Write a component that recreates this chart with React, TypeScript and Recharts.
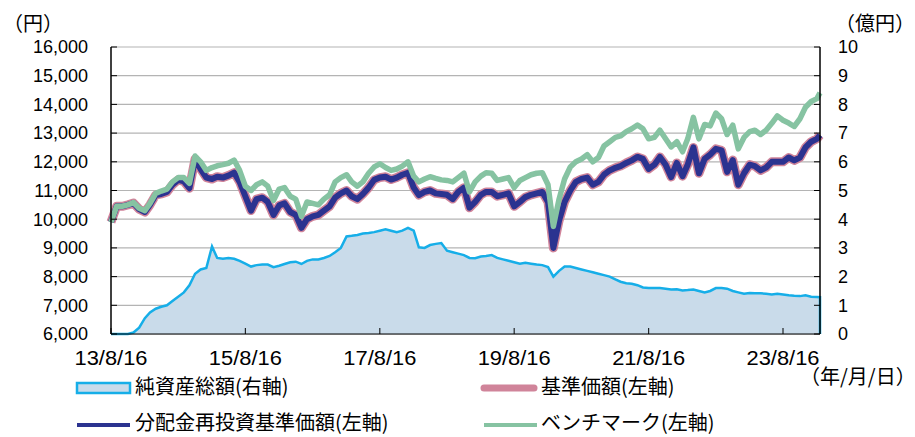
import {
  ComposedChart,
  Area,
  Line,
  XAxis,
  YAxis,
  CartesianGrid,
  Legend,
} from 'recharts'

// monthly reading points, 2013/8/16 .. 2024/2/16, plus the last day
const MONTHS = 127
const monthDates = Array.from({ length: MONTHS }, (_, i) => Date.UTC(2013, 7 + i, 16))
const LAST_DATE = Date.UTC(2024, 2, 4)
const FIRST_DATE = Date.UTC(2013, 7, 16)

const xTicks = ['2013-08-16', '2015-08-16', '2017-08-16', '2019-08-16', '2021-08-16', '2023-08-16']
const leftTicks = [6000, 7000, 8000, 9000, 10000, 11000, 12000, 13000, 14000, 15000, 16000]
const rightTicks = [0, 1, 2, 3, 4, 5, 6, 7, 8, 9, 10]

// 純資産総額 (億円)
const netAssets = [
  0, 0, 0, 0, 0.05, 0.22, 0.55, 0.75, 0.88, 0.95,
  1.0, 1.15, 1.3, 1.45, 1.7, 2.1, 2.25, 2.3, 3.05, 2.65,
  2.62, 2.65, 2.62, 2.55, 2.45, 2.35, 2.4, 2.42, 2.42, 2.33,
  2.38, 2.44, 2.5, 2.52, 2.44, 2.55, 2.6, 2.6, 2.65, 2.72,
  2.85, 3.0, 3.4, 3.42, 3.45, 3.5, 3.52, 3.55, 3.6, 3.65,
  3.6, 3.55, 3.6, 3.7, 3.6, 3.02, 3.0, 3.1, 3.14, 3.17,
  2.9, 2.85, 2.8, 2.75, 2.65, 2.64, 2.7, 2.72, 2.75, 2.65,
  2.6, 2.55, 2.5, 2.45, 2.48, 2.45, 2.42, 2.4, 2.33, 2.0,
  2.2, 2.35, 2.35, 2.3, 2.25, 2.2, 2.15, 2.1, 2.05, 2.0,
  1.9, 1.82, 1.77, 1.75, 1.7, 1.62, 1.6, 1.6, 1.6, 1.58,
  1.55, 1.56, 1.52, 1.53, 1.55, 1.5, 1.45, 1.5, 1.6, 1.6,
  1.58, 1.5, 1.45, 1.4, 1.43, 1.42, 1.42, 1.4, 1.38, 1.4,
  1.38, 1.35, 1.33, 1.32, 1.35, 1.3, 1.29,
  1.28,
]

// 基準価額 (円)
const basePrice = [
  9900, 10450, 10450, 10500, 10560, 10350, 10250, 10500, 10840, 10880,
  10950, 11200, 11370, 11320, 11080, 12100, 11750, 11450, 11400, 11480,
  11450, 11520, 11620, 11300, 10800, 10300, 10700, 10750, 10600, 10150,
  10480, 10550, 10250, 10150, 9700, 10000, 10100, 10150, 10300, 10450,
  10750, 10900, 11000, 10800, 10700, 10880, 11100, 11370, 11450, 11480,
  11380, 11450, 11550, 11620, 11100, 10840, 10950, 11000, 10900, 10880,
  10850, 10700, 10950, 11100, 10400, 10600, 10850, 10950, 10950, 10800,
  10850, 10900, 10450, 10600, 10770, 10850, 10900, 10950, 10600, 9000,
  9950, 10600, 11000, 11300, 11400, 11450, 11200, 11300, 11550, 11700,
  11790, 11850, 11960, 12050, 12170, 12100, 11750, 11900, 12170, 11900,
  11470, 11960, 11500, 11900, 12500, 11600, 12100, 12250, 12450, 12400,
  11650, 12060, 11200, 11600, 11900, 11850, 11700, 11800, 12000, 12000,
  12000, 12150, 12050, 12150, 12500, 12700, 12800,
  12930,
]

// 分配金再投資基準価額 (円) - no distributions paid, same as the base price
const reinvestedPrice = [...basePrice]

// ベンチマーク (円)
const benchmark = [
  9900, 10450, 10450, 10500, 10580, 10380, 10300, 10550, 10900, 10980,
  11050, 11300, 11450, 11450, 11250, 12200, 12000, 11700, 11800, 11860,
  11900, 11950, 12060, 11700, 11150, 11000, 11200, 11300, 11150, 10650,
  11050, 11100, 10800, 10700, 10100, 10600, 10550, 10500, 10700, 10850,
  11300, 11450, 11550, 11300, 11150, 11300, 11600, 11820, 11930, 11800,
  11700, 11750, 11850, 12000, 11500, 11300, 11400, 11480, 11420, 11370,
  11350, 11300, 11450, 11600, 10950, 11300, 11500, 11620, 11600, 11350,
  11400, 11450, 11100, 11350, 11450, 11550, 11600, 11620, 11200, 9750,
  10700, 11400, 11820, 12000, 12100, 12250, 12000, 12150, 12550, 12700,
  12850, 12900, 13050, 13150, 13280, 13150, 12800, 12850, 13100, 12800,
  12520, 12700, 12350, 12800, 13550, 12800, 13300, 13250, 13700, 13500,
  12950, 13280, 12450, 12850, 13050, 13100, 12950, 13100, 13340, 13600,
  13450, 13350, 13230, 13500, 13900, 14100, 14200,
  14400,
]

const COLORS = {
  area: '#c9dbea',
  areaLine: '#16aee8',
  price: '#d0849a',
  reinvest: '#2b3390',
  bench: '#86c3a2',
}

const dates = [...monthDates, LAST_DATE]

const rows: Array<Record<string, number | undefined>> = dates.map((t, i) => ({
  t,
  nav: netAssets[i],
  price: basePrice[i],
  reinvest: reinvestedPrice[i],
  bench: benchmark[i],
}))
// the net asset line drops to zero on the last day
rows.push({ t: LAST_DATE, nav: 0 })

const fmtDate = (t: number) => {
  const d = new Date(t)
  return `${String(d.getUTCFullYear()).slice(2)}/${d.getUTCMonth() + 1}/${d.getUTCDate()}`
}

const XTick = (props: any) => {
  const { x, y, payload } = props
  return (
    <text
      x={x}
      y={y + 31}
      textAnchor="middle"
      fontSize={20}
      fontFamily='"Liberation Sans", Arial, sans-serif'
      fill="#000"
      textLength={73}
      lengthAdjust="spacingAndGlyphs"
    >
      {fmtDate(payload.value)}
    </text>
  )
}

const JP = '"Noto Sans CJK JP", "Noto Sans", sans-serif'

function LegendBox() {
  const top = 365
  const row1 = 394 - top
  const row2 = 430 - top
  return (
    <svg width={915} height={72} style={{ display: 'block', overflow: 'visible' }}>
      <rect x={77} y={383 - top} width={53} height={10} fill={COLORS.area} stroke={COLORS.areaLine} strokeWidth={2.5} />
      <text x={135} y={row1} fontSize={20} fontFamily={JP}>
        純資産総額(右軸)
      </text>
      <line x1={484} x2={534} y1={388 - top} y2={388 - top} stroke={COLORS.price} strokeWidth={7} strokeLinecap="round" />
      <text x={541} y={row1} fontSize={20} fontFamily={JP}>
        基準価額(左軸)
      </text>
      <line x1={77} x2={130} y1={425 - top} y2={425 - top} stroke={COLORS.reinvest} strokeWidth={4} />
      <text x={135} y={row2} fontSize={20} fontFamily={JP}>
        分配金再投資基準価額(左軸)
      </text>
      <line x1={484} x2={537} y1={425 - top} y2={425 - top} stroke={COLORS.bench} strokeWidth={4} />
      <text x={541} y={row2} fontSize={20} fontFamily={JP}>
        ベンチマーク(左軸)
      </text>
    </svg>
  )
}

export default function App() {
  return (
    <div style={{ position: 'absolute', left: 0, top: 0, width: 915, height: 437, background: '#fff' }}>
      <ComposedChart width={915} height={437} data={rows} margin={{ top: 47, right: 0, bottom: 0, left: 0 }}>
        <CartesianGrid yAxisId="left" vertical={false} stroke="#b4b4b4" strokeWidth={1.2} />
        <XAxis
          dataKey="t"
          type="number"
          domain={[FIRST_DATE, LAST_DATE]}
          ticks={xTicks.map((s) => Date.parse(s))}
          height={103}
          tickSize={-6}
          tickMargin={6}
          tick={<XTick />}
          axisLine={{ stroke: '#000' }}
          tickLine={{ stroke: '#000' }}
        />
        <YAxis
          yAxisId="left"
          orientation="left"
          width={111}
          domain={[6000, 16000]}
          ticks={leftTicks}
          tickFormatter={(v: number) => v.toLocaleString('en-US')}
          tickSize={-6}
          tickMargin={29}
          tick={{ fill: '#000', fontSize: 18, fontFamily: '"Liberation Sans", Arial, sans-serif' }}
          axisLine={{ stroke: '#000', strokeWidth: 1.5 }}
          tickLine={{ stroke: '#000' }}
        />
        <YAxis
          yAxisId="right"
          orientation="right"
          width={95}
          domain={[0, 10]}
          ticks={rightTicks}
          tickSize={-6}
          tickMargin={24}
          tick={{ fill: '#000', fontSize: 18, fontFamily: '"Liberation Sans", Arial, sans-serif', textAnchor: 'start' }}
          axisLine={{ stroke: '#000', strokeWidth: 1.5 }}
          tickLine={{ stroke: '#000' }}
        />
        <Area
          yAxisId="right"
          type="linear"
          dataKey="nav"
          name="純資産総額(右軸)"
          stroke={COLORS.areaLine}
          strokeWidth={2.5}
          fill={COLORS.area}
          fillOpacity={1}
          isAnimationActive={false}
        />
        <Line
          yAxisId="left"
          type="linear"
          dataKey="price"
          name="基準価額(左軸)"
          stroke={COLORS.price}
          strokeWidth={9}
          strokeLinejoin="round"
          dot={false}
          isAnimationActive={false}
        />
        <Line
          yAxisId="left"
          type="linear"
          dataKey="reinvest"
          name="分配金再投資基準価額(左軸)"
          stroke={COLORS.reinvest}
          strokeWidth={6}
          strokeLinejoin="round"
          dot={false}
          isAnimationActive={false}
        />
        <Line
          yAxisId="left"
          type="linear"
          dataKey="bench"
          name="ベンチマーク(左軸)"
          stroke={COLORS.bench}
          strokeWidth={5.5}
          strokeLinejoin="round"
          dot={false}
          isAnimationActive={false}
        />
        <Legend
          layout="vertical"
          align="center"
          verticalAlign="middle"
          wrapperStyle={{ left: 0, top: 365, width: 915, height: 72 }}
          content={() => <LegendBox />}
        />
      </ComposedChart>
      <svg width={915} height={437} style={{ position: 'absolute', left: 0, top: 0, pointerEvents: 'none' }}>
        <text x={3} y={31} fontSize={20} fontFamily={JP}>（円）</text>
        <text x={835} y={31} fontSize={20} fontFamily={JP}>（億円）</text>
        <text x={800} y={384} fontSize={20} fontFamily={JP}>
          （年/月/日）
        </text>
      </svg>
    </div>
  )
}
